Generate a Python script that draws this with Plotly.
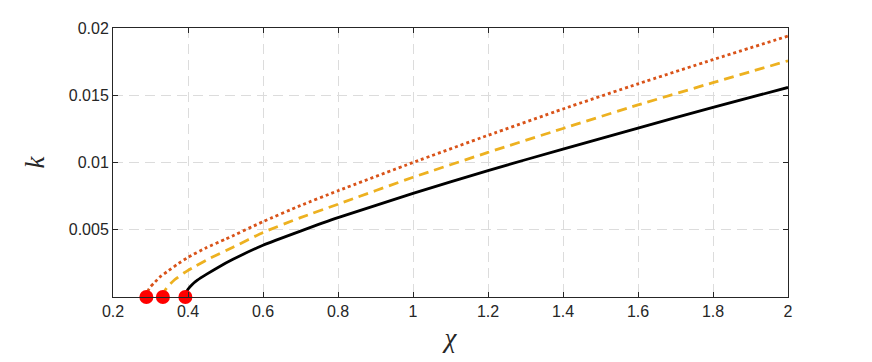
import plotly.graph_objects as go

# curves (chi, k)
chi_black = [0.393, 0.395, 0.40, 0.41, 0.425, 0.45, 0.48, 0.52, 0.60, 0.70, 0.80, 1.00, 1.20, 1.40, 1.60,
             1.80, 2.00]
k_black = [0.0, 0.0003, 0.00058, 0.0009, 0.00125, 0.0017, 0.0022, 0.0028, 0.00385, 0.0049, 0.0059, 0.0077,
           0.0094, 0.0110, 0.01256, 0.0141, 0.01558]

chi_yellow = [0.333, 0.335, 0.34, 0.35, 0.365, 0.39, 0.42, 0.46, 0.52, 0.60, 0.70, 0.80, 1.00, 1.20, 1.40,
              1.60, 1.80, 2.00]
k_yellow = [0.0, 0.0003, 0.00055, 0.0009, 0.0013, 0.0018, 0.0023, 0.0029, 0.0037, 0.0048, 0.0059, 0.0069,
            0.0089, 0.01075, 0.01253, 0.01428, 0.01594, 0.01756]

chi_orange = [0.289, 0.291, 0.295, 0.30, 0.31, 0.325, 0.345, 0.37, 0.40, 0.45, 0.50, 0.60, 0.70, 0.80, 1.00,
              1.20, 1.40, 1.60, 1.80, 2.00]
k_orange = [0.0, 0.0003, 0.00055, 0.00077, 0.00105, 0.00149, 0.0019, 0.0024, 0.00295, 0.00368, 0.0043, 0.0056,
            0.0068, 0.0079, 0.0100, 0.01202, 0.01398, 0.01585, 0.01765, 0.0194]

chi_start = [0.289, 0.333, 0.393]
k_start = [0, 0, 0]

x_ticks = [0.2, 0.4, 0.6, 0.8, 1, 1.2, 1.4, 1.6, 1.8, 2]
x_labels = ['0.2', '0.4', '0.6', '0.8', '1', '1.2', '1.4', '1.6', '1.8', '2']
y_ticks = [0.005, 0.01, 0.015, 0.02]
y_labels = ['0.005', '0.01', '0.015', '0.02']

fig = go.Figure()
fig.add_trace(go.Scatter(x=chi_black, y=k_black, mode='lines',
                         line=dict(color='black', width=2.8, shape='spline', smoothing=0.5)))
fig.add_trace(go.Scatter(x=chi_yellow, y=k_yellow, mode='lines',
                         line=dict(color='#EDB120', width=2.8, dash='10px,6px', shape='spline', smoothing=0.5)))
fig.add_trace(go.Scatter(x=chi_orange, y=k_orange, mode='lines',
                         line=dict(color='#D95319', width=2.8, dash='dot', shape='spline', smoothing=0.5)))
fig.add_trace(go.Scatter(x=chi_start, y=k_start, mode='markers', cliponaxis=False,
                         marker=dict(color='#ff0000', size=14, line=dict(width=0))))

axis_style = dict(showline=True, linecolor='#262626', linewidth=1, mirror='allticks', ticks='inside',
                  ticklen=5, tickcolor='#262626', showgrid=True, gridcolor='#dcdcdc', griddash='10px,6px',
                  gridwidth=1, zeroline=False, tickfont=dict(family='Liberation Sans, Arial', size=16,
                                                             color='#262626'))

fig.update_layout(
    width=872, height=362, showlegend=False, template='simple_white',
    plot_bgcolor='white', paper_bgcolor='white',
    margin=dict(l=105, r=92, t=18, b=73),
    xaxis=dict(range=[0.2, 2], tickvals=x_ticks, ticktext=x_labels,
               title=dict(text='χ', standoff=8,
                          font=dict(family='Liberation Serif', size=27, style='italic', color='#262626')),
               **axis_style),
    yaxis=dict(range=[0, 0.02], tickvals=y_ticks, ticktext=y_labels,
               title=dict(text='k', standoff=16,
                          font=dict(family='Liberation Serif', size=27, style='italic', color='#262626')),
               **axis_style),
)

fig.write_html("out.html")
